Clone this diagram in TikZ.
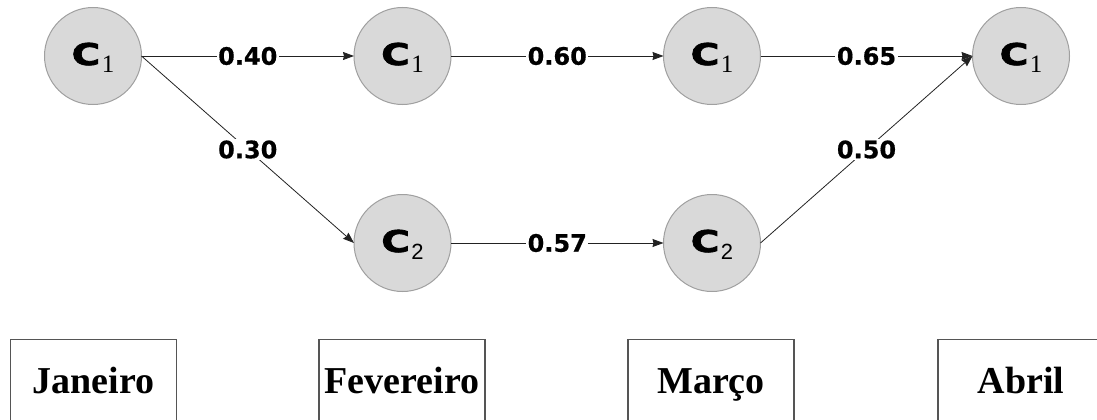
\documentclass[tikz,border=0pt]{standalone}
\usepackage{graphicx}
\usepackage{fontspec}
\usetikzlibrary{arrows.meta,calc}
\newfontfamily\lblfont{DejaVu Sans}[BoldFeatures={FakeBold=0.6}]
\newfontfamily\heavyfont{DejaVu Sans}[BoldFeatures={FakeBold=2.2}]
\newfontfamily\serfont{Liberation Serif}
\newfontfamily\sanfont{Liberation Sans}
\definecolor{circfill}{HTML}{D9D9D9}
\definecolor{circdraw}{HTML}{A0A0A0}
\definecolor{boxdraw}{HTML}{555555}
\definecolor{linecol}{HTML}{222222}
\newcommand{\bigC}{{\heavyfont\bfseries\fontsize{30}{30}\selectfont\scalebox{1.3}[1]{C}}}
\newcommand{\cone}{\bigC\kern1.5pt\raisebox{-7.7pt}{\serfont\fontsize{25}{25}\selectfont 1}}
\newcommand{\ctwo}{\bigC\kern1.5pt\raisebox{-7.7pt}{\sanfont\fontsize{22}{22}\selectfont 2}}
\begin{document}
\begin{tikzpicture}[x=1pt,y=-1pt,
  state/.style={circle, minimum size=97pt, inner sep=0pt, outer sep=0pt, fill=circfill, draw=circdraw, line width=1pt},
  ctext/.style={anchor=base, inner sep=0pt},
  edge/.style={draw=linecol, line width=0.8pt, -{Stealth[length=11pt,width=8pt,inset=1pt]}},
  lbl/.style={fill=white, inner sep=1.5pt, font=\lblfont\bfseries\fontsize{24}{24}\selectfont},
  monthbox/.style={draw=boxdraw, line width=1.4pt, anchor=north, minimum width=166pt, minimum height=110pt, inner sep=0pt},
  mtext/.style={anchor=base, inner sep=0pt, font=\serfont\bfseries\fontsize{38}{38}\selectfont}]
\useasboundingbox (0,0) rectangle (1097,420);
\clip (0,0) rectangle (1097,420);
% states
\node[state] (a1) at (93,56) {};
\node[state] (b1) at (402.5,56) {};
\node[state] (c1) at (712,56) {};
\node[state] (d1) at (1021,56) {};
\node[state] (b2) at (402.5,243) {};
\node[state] (c2) at (712,243) {};
% state texts
\node[ctext] (ta1) at ($(a1)+(0,9)$) {\cone};
\node[ctext] (tb1) at ($(b1)+(0,9)$) {\cone};
\node[ctext] (tc1) at ($(c1)+(0,9)$) {\cone};
\node[ctext] (td1) at ($(d1)+(0,9)$) {\cone};
\node[ctext] (tb2) at ($(b2)+(0,9)$) {\ctwo};
\node[ctext] (tc2) at ($(c2)+(0,9)$) {\ctwo};
% edges
\draw[edge] (a1.east) -- node[lbl] (l1) {0.40} (b1.west);
\draw[edge] (b1.east) -- node[lbl] (l2) {0.60} (c1.west);
\draw[edge] (c1.east) -- node[lbl] (l3) {0.65} (d1.west);
\draw[edge] (a1.east) -- node[lbl] (l4) {0.30} (b2.west);
\draw[edge] (b2.east) -- node[lbl] (l5) {0.57} (c2.west);
\draw[edge] (c2.east) -- node[lbl] (l6) {0.50} (d1.west);
% month boxes
\node[monthbox] (jan) at (93.5,339) {};
\node[monthbox] (fev) at (402,339) {};
\node[monthbox] (mar) at (711,339) {};
\node[monthbox] (abr) at (1021,339) {};
\node[mtext] (tjan) at ($(jan.north)+(0,54)$) {Janeiro};
\node[mtext] (tfev) at ($(fev.north)+(0,54)$) {Fevereiro};
\node[mtext] (tmar) at ($(mar.north)+(0,54)$) {Março};
\node[mtext] (tabr) at ($(abr.north)+(0,54)$) {Abril};
\end{tikzpicture}
\end{document}
